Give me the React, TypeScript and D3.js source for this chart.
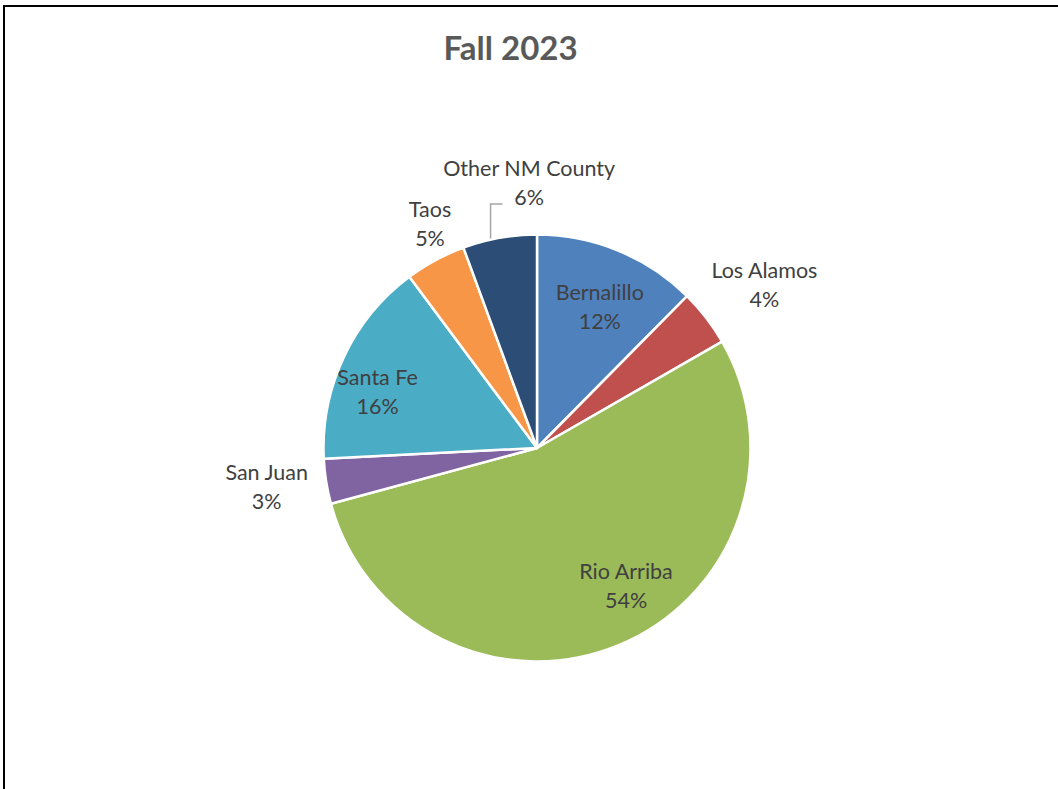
import React from "react";
import * as d3 from "d3";

const title = "Fall 2023";
const categories = ["Bernalillo", "Los Alamos", "Rio Arriba", "San Juan", "Santa Fe", "Taos", "Other NM County"];
const shares = [12.4, 4.3, 54.1, 3.4, 15.6, 4.6, 5.6];
const colors = ["#4F81BD", "#C0504D", "#9BBB59", "#8064A2", "#4BACC6", "#F79646", "#2C4D75"];
// label placement: [radius factor, angle in degrees clockwise from top]
const labelRadius = [0.72, 1.31, 0.77, 1.28, 0.79, 1.16, 1.24];
const labelAngle = [24.1, 54.4, 147.2, 261.6, 289.1, 334.4, 358.3];

const W = 1058;
const H = 789;
const FONT = "Lato, 'Open Sans', sans-serif";

export default function App() {
  const cx = 537;
  const cy = 448;
  const R = 213.5;
  const total = d3.sum(shares);
  const pie = d3.pie<number>().sort(null).value((d) => d);
  const arcs = pie(shares);
  const arc = d3.arc<d3.PieArcDatum<number>>().innerRadius(0).outerRadius(R);
  const lineH = 29;

  return (
    <svg width={W} height={H} style={{ position: "absolute", left: 0, top: 0, background: "#fff" }}>
      <rect x={0} y={0} width={W} height={H} fill="#fff" />
      <path d={`M4,${H + 10} L4,6 L${W + 10},6`} fill="none" stroke="#000" strokeWidth={2} />
      <text x={510.5} y={60} textAnchor="middle" fontFamily={FONT} fontWeight="bold" fontSize={33} fill="#595959">
        {title}
      </text>
      <g transform={`translate(${cx},${cy})`}>
        {arcs.map((a, i) => (
          <path key={i} d={arc(a) || ""} fill={colors[i]} stroke="#fff" strokeWidth={2.5} strokeLinejoin="round" />
        ))}
      </g>
      {arcs.map((a, i) => {
        const ang = (labelAngle[i] * Math.PI) / 180;
        const r = labelRadius[i] * R;
        const x = cx + r * Math.sin(ang);
        const y = cy - r * Math.cos(ang);
        const pct = Math.round((a.value / total) * 100) + "%";
        return (
          <text key={i} x={x} y={y} textAnchor="middle" fontFamily={FONT} fontSize={21.5} fill="#404040">
            <tspan x={x} dy={-lineH / 2 + 7}>{categories[i]}</tspan>
            <tspan x={x} dy={lineH}>{pct}</tspan>
          </text>
        );
      })}
      {(() => {
        const i = categories.length - 1;
        const a = arcs[i];
        const ang = a.startAngle + (a.endAngle - a.startAngle) * 0.38;
        const x0 = cx + (R + 1) * Math.sin(ang);
        const y0 = cy - (R + 1) * Math.cos(ang);
        const yTop = 204;
        return (
          <path d={`M${x0},${y0} L${x0},${yTop} L${x0 + 12},${yTop}`} fill="none" stroke="#A6A6A6" strokeWidth={1.5} />
        );
      })()}
    </svg>
  );
}
